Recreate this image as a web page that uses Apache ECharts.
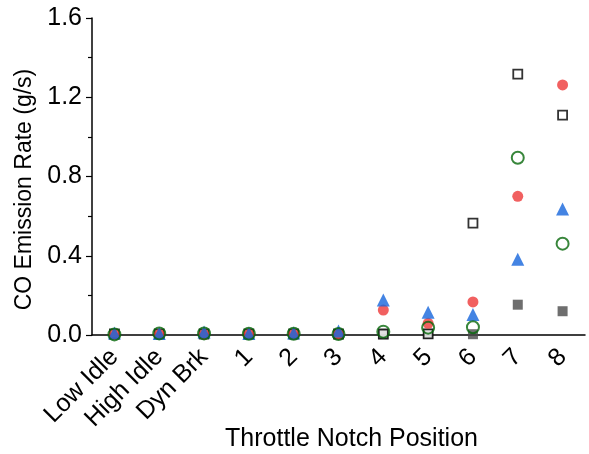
<!DOCTYPE html>
<html>
<head>
<meta charset="UTF-8">
<script src="https://cdn.jsdelivr.net/npm/echarts@6/dist/echarts.min.js"></script>
<style>
  body { margin: 0; background: #ffffff; }
  #chart { width: 589px; height: 454px; }
</style>
</head>
<body>
<div id="chart"></div>
<script>
  var notches = ['Low Idle', 'High Idle', 'Dyn Brk', '1', '2', '3', '4', '5', '6', '7', '8'];
  var graySquare = [0.003, 0.003, 0.003, 0.003, 0.003, 0.003, 0.004, 0.006, 0.004, 0.153, 0.120];
  var openSquare = [0.005, 0.006, 0.006, 0.006, 0.006, 0.005, 0.005, 0.006, 0.565, 1.317, 1.110];
  var redCircle = [0.003, 0.003, 0.003, 0.003, 0.003, 0.004, 0.126, 0.059, 0.167, 0.700, 1.262];
  var blueTriangle = [0.010, 0.008, 0.015, 0.008, 0.010, 0.020, 0.177, 0.115, 0.104, 0.382, 0.636];
  var greenCircle = [0.003, 0.008, 0.008, 0.006, 0.006, 0.005, 0.017, 0.037, 0.039, 0.895, 0.461];
  var yTicks = [0, 0.4, 0.8, 1.2, 1.6];

  var chart = echarts.init(document.getElementById('chart'));
  var font = 'Liberation Sans, Arial, sans-serif';

  chart.setOption({
    animation: false,
    grid: { left: 92, right: 4, top: 18, bottom: 119, outerBoundsMode: 'none', containLabel: false },
    xAxis: [{
      type: 'category',
      data: notches,
      name: 'Throttle Notch Position',
      nameLocation: 'middle',
      nameMoveOverlap: false,
      nameGap: 92,
      nameTextStyle: { color: '#000', fontSize: 25, fontFamily: font, padding: [0, 0, 0, 26] },
      axisLine: { lineStyle: { color: '#000', width: 1.5 } },
      axisTick: { alignWithLabel: true, length: 7, lineStyle: { color: '#000', width: 1.2 } },
      axisLabel: { rotate: 45, margin: 18, color: '#000', fontSize: 25, fontFamily: font, interval: 0,
        padding: [0, 0, 0, 0] }
    }, {
      type: 'category',
      data: notches,
      position: 'bottom',
      axisLine: { show: false },
      axisTick: { length: 4, lineStyle: { color: '#000', width: 1.2 } },
      axisLabel: { show: false }
    }],
    yAxis: {
      type: 'value',
      min: yTicks[0],
      max: yTicks[yTicks.length - 1],
      interval: 0.4,
      name: 'CO Emission Rate (g/s)',
      nameLocation: 'middle',
      nameGap: 54,
      nameTextStyle: { color: '#000', fontSize: 23, fontFamily: font, padding: [0, 26, 0, 0] },
      splitLine: { show: false },
      axisLine: { show: true, lineStyle: { color: '#000', width: 1.5 } },
      axisTick: { show: true, length: 6, lineStyle: { color: '#000', width: 1.2 } },
      minorTick: { show: true, splitNumber: 2, length: 4, lineStyle: { color: '#000', width: 1.2 } },
      axisLabel: { color: '#000', fontSize: 25, fontFamily: font, margin: 10,
        formatter: function (v) { return v.toFixed(1); } }
    },
    series: [{
      name: 'gray', type: 'scatter', data: graySquare, symbol: 'rect', symbolSize: 10,
      itemStyle: { color: '#4a4a4a' }
    }, {
      name: 'open square', type: 'scatter', data: openSquare, symbol: 'rect', symbolSize: 9,
      itemStyle: { color: '#ffffff', borderColor: '#000', borderWidth: 1.8 }
    }, {
      name: 'red', type: 'scatter', data: redCircle, symbol: 'circle', symbolSize: 11,
      itemStyle: { color: '#ee3838' }
    }, {
      name: 'blue', type: 'scatter', data: blueTriangle, symbol: 'triangle', symbolSize: 13,
      itemStyle: { color: '#1565dc' }
    }, {
      name: 'green', type: 'scatter', data: greenCircle, symbol: 'circle', symbolSize: 12,
      itemStyle: { color: 'rgba(255,255,255,0)', borderColor: '#06680a', borderWidth: 2 }
    }]
  });
</script>
</body>
</html>
